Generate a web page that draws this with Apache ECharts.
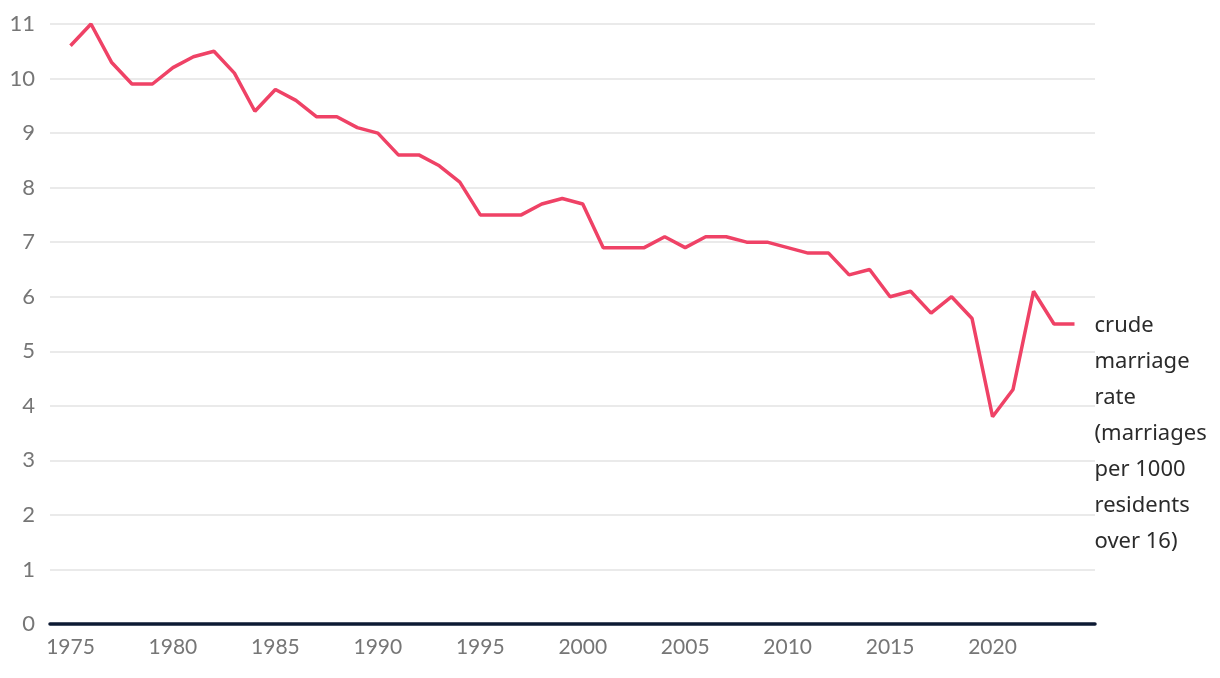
<!DOCTYPE html>
<html>
<head>
<meta charset="utf-8">
<script src="https://cdn.jsdelivr.net/npm/echarts@6/dist/echarts.min.js"></script>
<style>html,body{margin:0;padding:0;background:#fff}#c{width:1220px;height:678px}</style>
</head>
<body>
<div id="c"></div>
<script>
const years = [1975,1976,1977,1978,1979,1980,1981,1982,1983,1984,1985,1986,1987,1988,1989,1990,1991,1992,1993,1994,1995,1996,1997,1998,1999,2000,2001,2002,2003,2004,2005,2006,2007,2008,2009,2010,2011,2012,2013,2014,2015,2016,2017,2018,2019,2020,2021,2022,2023,2024];
const rates = [10.6,11.0,10.3,9.9,9.9,10.2,10.4,10.5,10.1,9.4,9.8,9.6,9.3,9.3,9.1,9.0,8.6,8.6,8.4,8.1,7.5,7.5,7.5,7.7,7.8,7.7,6.9,6.9,6.9,7.1,6.9,7.1,7.1,7.0,7.0,6.9,6.8,6.8,6.4,6.5,6.0,6.1,5.7,6.0,5.6,3.8,4.3,6.1,5.5,5.5];
const xTickLabels = [1975,1980,1985,1990,1995,2000,2005,2010,2015,2020];
const seriesLabel = "crude\nmarriage\nrate\n(marriages\nper 1000\nresidents\nover 16)";

const chart = echarts.init(document.getElementById('c'), null, {renderer:'canvas'});
chart.setOption({
  animation:false,
  backgroundColor:'#fff',
  grid:{left:50,right:125,top:24,bottom:54,containLabel:false},
  xAxis:{
    type:'value', min:1974, max:2025,
    axisLine:{show:true, onZero:true, lineStyle:{color:'#0d1a33', width:3.5}},
    axisTick:{show:false},
    splitLine:{show:false},
    axisLabel:{customValues:xTickLabels, formatter:v=>String(v), color:'#767676', fontSize:21, fontFamily:'Lato', margin:13}
  },
  yAxis:{
    type:'value', min:0, max:11, interval:1,
    axisLine:{show:false}, axisTick:{show:false},
    splitLine:{lineStyle:{color:'#e3e3e3', width:1.5}},
    axisLabel:{color:'#767676', fontSize:22, fontFamily:'Lato', margin:15}
  },
  series:[{
    type:'line',
    data: years.map((y,i)=>[y,rates[i]]),
    showSymbol:false,
    lineStyle:{color:'#ef4266', width:3.5},
    itemStyle:{color:'#ef4266'},
    endLabel:{
      show:true,
      formatter:()=>seriesLabel,
      color:'#2b2b2b', fontSize:22, lineHeight:36, fontFamily:'Noto Sans',
      distance:20, verticalAlign:'top', align:'left', offset:[0,-16]
    }
  }]
});
</script>
</body>
</html>
